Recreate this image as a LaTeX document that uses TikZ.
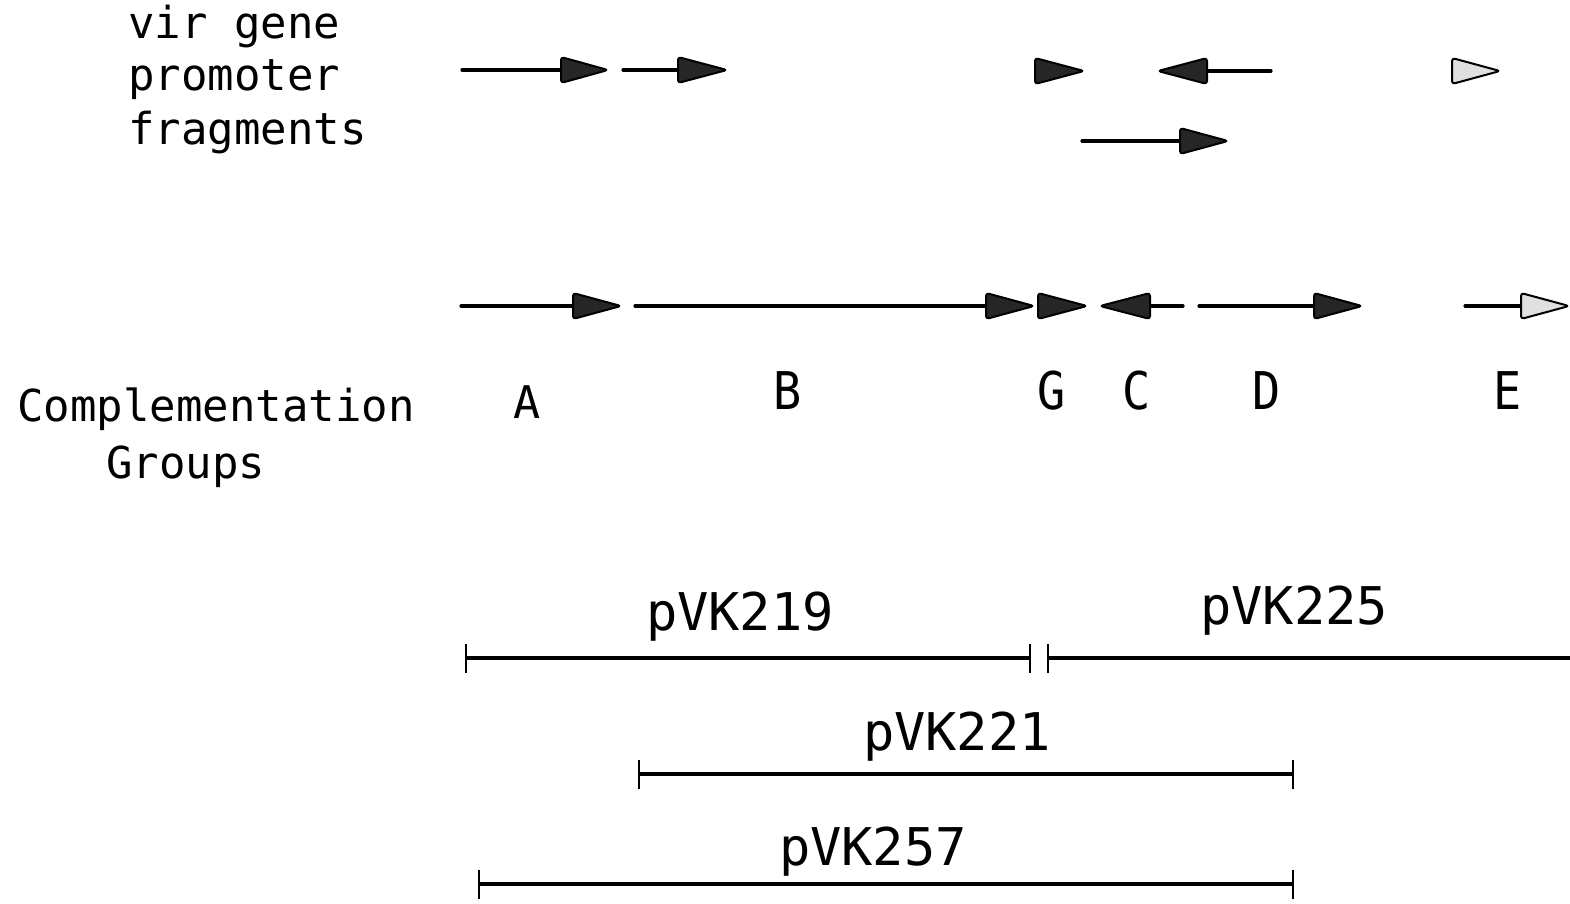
\documentclass[tikz,border=0pt]{standalone}
\usepackage{fontspec}
\newfontfamily\plotfont{DejaVu Sans Mono}
\begin{document}
\begin{tikzpicture}[x=0.5pt,y=-0.5pt,
  dna/.style={line width=1.6pt,line cap=round},
  headdark/.style={draw=black,line width=1pt,fill=black!85,rounded corners=1.5pt,line join=round},
  headlight/.style={draw=black,line width=1pt,fill=black!12,rounded corners=1.5pt,line join=round},
  bar/.style={line width=1.6pt},
  tick/.style={line width=1.3pt},
  lbl/.style={font=\plotfont\fontsize{22pt}{27pt}\selectfont,inner sep=0pt,anchor=base west},
  grp/.style={font=\plotfont\fontsize{22.5pt}{27pt}\selectfont,inner sep=0pt,anchor=base},
  nar/.style={font=\plotfont\fontsize{26pt}{30pt}\selectfont,inner sep=0pt,anchor=base,xscale=0.9},
  clone/.style={font=\plotfont\fontsize{26pt}{30pt}\selectfont,inner sep=0pt,anchor=base}]
\useasboundingbox (0,0) rectangle (1570,904);
\fill[white] (0,0) rectangle (1570,904);
% right-pointing arrow: start, back, tip, y, style
\newcommand\myRarr[5]{%
  \ifx&#1&\else\draw[dna] (#1,#4) -- (#2,#4);\fi
  \path[#5] (#2,#4-13) -- (#3,#4) -- (#2,#4+13) -- cycle;}
% left-pointing arrow: tip, back, end, y, style
\newcommand\myLarr[5]{%
  \draw[dna] (#2,#4) -- (#3,#4);
  \path[#5] (#2,#4-13) -- (#1,#4) -- (#2,#4+13) -- cycle;}
% labels
\node[lbl] (t1) at (128,39) {vir gene};
\node[lbl] (t2) at (128,91) {promoter};
\node[lbl] (t3) at (128,145) {fragments};
\node[lbl] (t4) at (17,421) {Complementation};
\node[lbl] (t5) at (106,478) {Groups};
% promoter fragments
\myRarr{462}{561}{608}{70}{headdark}
\myRarr{623}{678}{727}{70}{headdark}
\myRarr{}{1035}{1084}{71}{headdark}
\myLarr{1158}{1207}{1271}{71}{headdark}
\myRarr{}{1452}{1500}{71}{headlight}
\myRarr{1082}{1180}{1228}{141}{headdark}
% complementation groups
\myRarr{461}{573}{621}{306}{headdark}
\myRarr{635}{986}{1034}{306}{headdark}
\myRarr{}{1038}{1087}{306}{headdark}
\myLarr{1100}{1150}{1183}{306}{headdark}
\myRarr{1199}{1314}{1362}{306}{headdark}
\myRarr{1465}{1521}{1569}{306}{headlight}
\node[grp] (gA) at (527,418) {A};
\node[nar] (gB) at (788,409) {B};
\node[nar] (gG) at (1052,409) {G};
\node[nar] (gC) at (1137,409) {C};
\node[nar] (gD) at (1267,409) {D};
\node[nar] (gE) at (1508,409) {E};
% clones
\coordinate (a1) at (466,658); \coordinate (a2) at (1030,658);
\coordinate (b1) at (1048,658); \coordinate (b2) at (1572,658);
\coordinate (c1) at (639,774); \coordinate (c2) at (1293,774);
\coordinate (d1) at (479,884); \coordinate (d2) at (1293,884);
\draw[bar] (a1) -- (a2);
\draw[bar] (b1) -- (b2);
\draw[bar] (c1) -- (c2);
\draw[bar] (d1) -- (d2);
\foreach \p in {a1,a2,b1,c1,c2,d1,d2}
  \draw[tick] ([yshift=14.5*0.5pt]\p) -- ([yshift=-15*0.5pt]\p);
\node[clone] (p219) at (740,630) {pVK219};
\node[clone] (p225) at (1294,624) {pVK225};
\node[clone] (p221) at (957,750) {pVK221};
\node[clone] (p257) at (873,865) {pVK257};
\end{tikzpicture}
\end{document}
